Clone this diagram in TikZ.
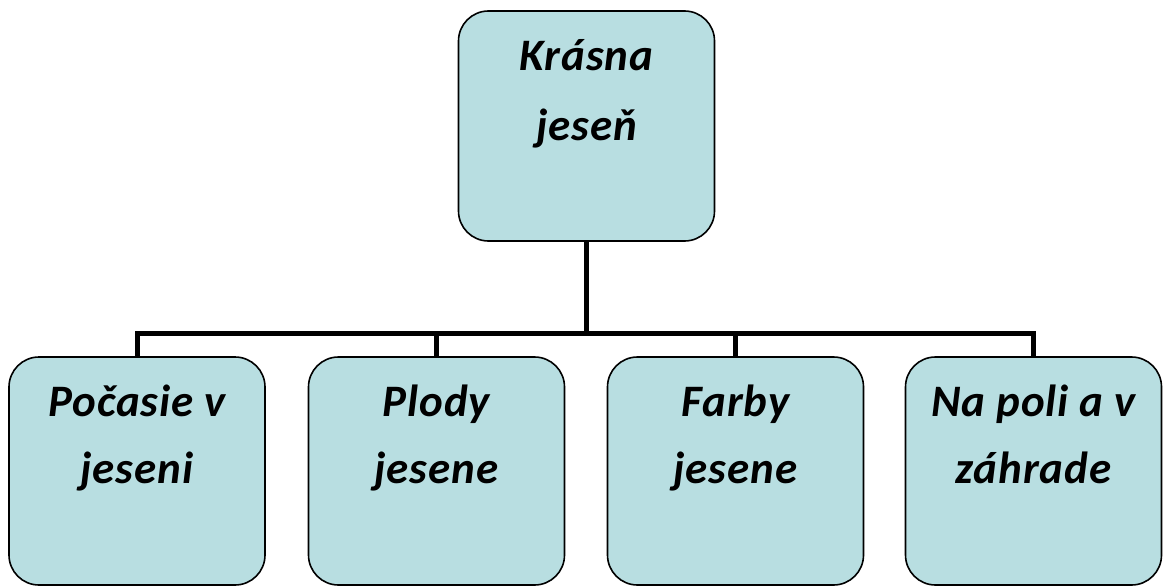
\documentclass[tikz,border=0pt]{standalone}
\usepackage{fontspec}
\setmainfont{Carlito}
\definecolor{boxblue}{RGB}{184,222,225}
\tikzset{
box/.style={draw=black, line width=1.6pt, fill=boxblue, rounded corners=30pt, minimum width=256pt, inner sep=0pt},
word/.style={font=\bfseries\itshape\fontsize{45}{54}\selectfont\addfontfeature{LetterSpace=2}, anchor=base, inner sep=0pt},
link/.style={line width=5pt}
}
\begin{document}
\begin{tikzpicture}[x=1pt,y=-1pt]
\useasboundingbox (0,0) rectangle (1166,586);
\node [box, minimum height=230pt] (root) at (586.5,126) {};
\node [box, minimum height=228pt] (weather) at (137,471) {};
\node [box, minimum height=228pt] (fruit) at (436.5,471) {};
\node [box, minimum height=228pt] (colors) at (735.5,471) {};
\node [box, minimum height=228pt] (garden) at (1033.5,471) {};
\coordinate (bus) at (586.5,333);
\draw [link] (root.south) -- (bus);
\draw [link] (weather.north) -- (weather.north |- bus) -- (garden.north |- bus) -- (garden.north);
\draw [link] (fruit.north) -- (fruit.north |- bus);
\draw [link] (colors.north) -- (colors.north |- bus);
\node [word] (root-a) at ([yshift=-60pt]root.north) {Krásna};
\node [word] (root-b) at ([yshift=-130pt]root.north) {jeseň};
\node [word] (weather-a) at ([yshift=-60pt]weather.north) {Počasie v};
\node [word] (weather-b) at ([yshift=-127pt]weather.north) {jeseni};
\node [word] (fruit-a) at ([yshift=-60pt]fruit.north) {Plody};
\node [word] (fruit-b) at ([yshift=-127pt]fruit.north) {jesene};
\node [word] (colors-a) at ([yshift=-60pt]colors.north) {Farby};
\node [word] (colors-b) at ([yshift=-127pt]colors.north) {jesene};
\node [word] (garden-a) at ([yshift=-60pt]garden.north) {Na poli a v};
\node [word] (garden-b) at ([yshift=-127pt]garden.north) {záhrade};
\end{tikzpicture}
\end{document}
